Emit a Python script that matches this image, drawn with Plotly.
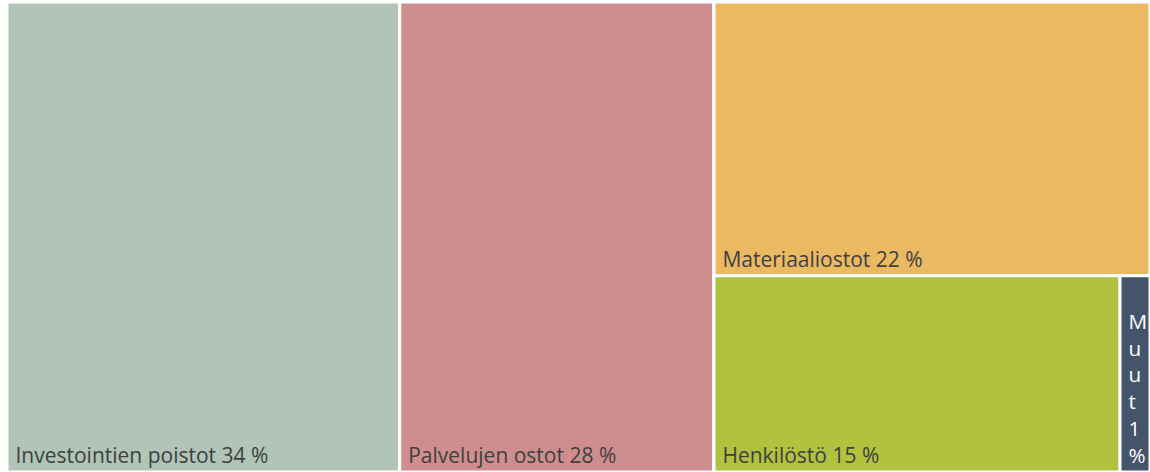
import plotly.graph_objects as go

# Data
categories = ["Investointien poistot", "Palvelujen ostot", "Materiaaliostot", "Henkilöstö", "Muut"]
values = [34.5, 27.6, 22.3, 14.9, 1.1]          # estimated tile areas (%)
shown_pct = [34, 28, 22, 15, 1]                   # percentages printed in labels
colors = ["#B0C4B8", "#CF8E8E", "#EBB962", "#B1C23E", "#44546A"]
text_colors = ["#404040", "#404040", "#404040", "#404040", "#FFFFFF"]

# hierarchy (groups only used to reproduce the layout)
ids = ["root", "inv", "pal", "g1", "mat", "g2", "hen", "muu"]
parents = ["", "root", "root", "root", "g1", "g1", "g2", "g2"]
leaf_index = {"inv": 0, "pal": 1, "mat": 2, "hen": 3, "muu": 4}

NB = "\u00a0"
labels, vals, cols, texts, tcols = [], [], [], [], []
for i in ids:
    if i in leaf_index:
        k = leaf_index[i]
        labels.append(categories[k])
        vals.append(values[k])
        cols.append(colors[k])
        if i == "muu":
            s = f"{categories[k]}{shown_pct[k]}%"
            texts.append("<br>".join(NB + c for c in s))
        else:
            texts.append(f"{NB}{categories[k]} {shown_pct[k]} %")
        tcols.append(text_colors[k])
    else:
        labels.append(i)
        vals.append(0)
        cols.append("#FFFFFF")
        texts.append("")
        tcols.append("#404040")

fig = go.Figure(go.Treemap(
    ids=ids,
    labels=labels,
    parents=parents,
    values=vals,
    branchvalues="remainder",
    sort=False,
    text=texts,
    textinfo="text",
    textposition="bottom left",
    insidetextfont=dict(family="Open Sans, sans-serif", size=21, color=tcols),
    marker=dict(colors=cols, line=dict(color="#FFFFFF", width=3),
                pad=dict(t=0, l=0, r=0, b=0)),
    tiling=dict(packing="slice-dice", pad=0),
    pathbar=dict(visible=False),
    hoverinfo="label+value",
))

fig.update_layout(
    width=1150, height=472,
    margin=dict(l=7, r=0, t=2, b=0),
    paper_bgcolor="#FFFFFF",
)

fig.write_html("out.html")
